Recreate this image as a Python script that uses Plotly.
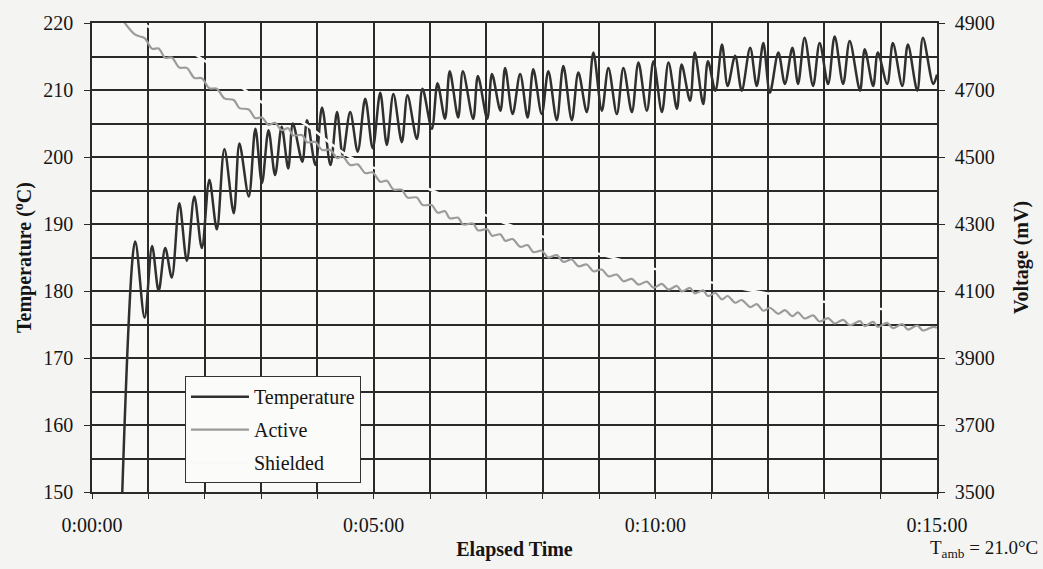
import plotly.graph_objects as go
import pandas as pd

# elapsed time (s) at the extremes of the temperature oscillation
time_s = [30, 46, 56, 64, 71, 78, 85, 93, 101, 109, 117, 125, 133, 141, 151, 157, 167, 174,
          181, 188, 195, 202, 209, 214, 224, 229, 238, 245, 254, 261, 267, 275, 283, 291,
          299, 307, 314, 321, 330, 336, 346, 352, 362, 368, 376, 381, 390, 395, 406, 411,
          421, 426, 435, 440, 448, 456, 464, 470, 479, 486, 495, 502, 511, 518, 527, 534,
          543, 550, 559, 566, 575, 582, 591, 598, 607, 614, 623, 628, 637, 642, 651, 656,
          664, 671, 677, 685, 692, 701, 708, 715, 722, 731, 738, 746, 752, 759, 768, 775,
          784, 791, 800, 807, 818, 823, 832, 837, 847, 853, 863, 869, 879, 885, 896, 900]

temperature = [140.0, 187.4, 176.0, 186.7, 180.0, 186.4, 182.0, 193.1, 184.5, 194.1, 186.4,
               196.6, 189.2, 201.2, 191.6, 202.0, 194.1, 204.2, 196.1, 204.0, 197.3, 204.5,
               198.3, 205.0, 199.3, 205.5, 198.8, 207.4, 198.8, 206.7, 200.3, 206.7, 200.8,
               208.7, 201.3, 209.6, 201.8, 209.4, 202.2, 209.2, 202.7, 210.2, 204.2, 211.0,
               205.7, 212.8, 205.9, 212.8, 205.7, 212.1, 205.7, 212.4, 206.9, 213.3, 206.4,
               212.4, 205.9, 213.1, 206.4, 212.8, 205.5, 213.6, 205.5, 212.6, 206.7, 215.6,
               206.9, 213.3, 206.4, 213.3, 206.7, 214.1, 206.9, 214.3, 206.7, 214.1, 207.2,
               213.8, 208.4, 215.6, 207.9, 214.3, 209.9, 216.8, 210.6, 215.1, 209.9, 216.3,
               210.6, 217.0, 209.6, 215.6, 210.9, 216.3, 210.9, 217.8, 210.6, 217.0, 210.9,
               218.0, 210.9, 217.3, 209.9, 216.1, 210.6, 215.6, 210.9, 217.0, 210.6, 216.8,
               209.9, 217.8, 210.9, 212.3]

active_mv = [4919, 4865, 4855, 4823, 4824, 4796, 4797, 4767, 4766, 4736, 4735, 4705, 4704,
             4675, 4670, 4646, 4642, 4616, 4618, 4596, 4602, 4580, 4586, 4565, 4565, 4544,
             4545, 4521, 4521, 4497, 4502, 4476, 4478, 4452, 4454, 4426, 4429, 4403, 4402,
             4379, 4379, 4357, 4356, 4334, 4338, 4317, 4319, 4299, 4301, 4281, 4284, 4265,
             4269, 4250, 4255, 4232, 4237, 4216, 4220, 4200, 4207, 4187, 4194, 4174, 4179,
             4159, 4164, 4144, 4149, 4129, 4136, 4119, 4128, 4110, 4121, 4104, 4115, 4099,
             4109, 4093, 4102, 4085, 4094, 4075, 4085, 4065, 4073, 4052, 4061, 4041, 4050,
             4032, 4043, 4025, 4036, 4018, 4027, 4009, 4019, 4003, 4014, 3998, 4010, 3995,
             4008, 3993, 4005, 3989, 4001, 3985, 3997, 3982, 3993, 3990]

shielded_time_s = [30, 54, 112, 162, 181, 227, 275, 360, 440, 556, 703, 900]
shielded_mv = [4950, 4900, 4802, 4702, 4663, 4598, 4500, 4403, 4302, 4198, 4101, 4027]

x_tick_labels = ["0:00:00", "0:05:00", "0:10:00", "0:15:00"]

base = pd.Timestamp("2000-01-01 00:00:00")
t_main = base + pd.to_timedelta(time_s, unit="s")
t_sh = base + pd.to_timedelta(shielded_time_s, unit="s")

PLOT_BG = "#f9f9f7"
GRID = "#2a2a2a"
FONT = "Liberation Serif"
TXT = "#151515"

fig = go.Figure()
fig.add_trace(go.Scatter(x=t_main, y=temperature, name="Temperature", mode="lines",
                         line=dict(color="#303030", width=2.5, shape="spline", smoothing=0.9),
                         legendgroup="a"))
fig.add_trace(go.Scatter(x=t_main, y=active_mv, name="Active", mode="lines", yaxis="y2",
                         line=dict(color="#9c9c9c", width=2.2, shape="spline", smoothing=0.9),
                         legendgroup="b"))
fig.add_trace(go.Scatter(x=t_sh, y=shielded_mv, name="Shielded", mode="lines", yaxis="y2",
                         line=dict(color=PLOT_BG, width=2.5, shape="spline"),
                         legendgroup="c"))

tickvals = [base + pd.Timedelta(minutes=m) for m in (0, 5, 10, 15)]

fig.update_layout(
    width=1043, height=569,
    margin=dict(l=92, r=106, t=19, b=76),
    paper_bgcolor="#f4f4f2", plot_bgcolor=PLOT_BG,
    font=dict(family=FONT, size=20, color=TXT),
    showlegend=True,
    legend=dict(x=0.11, y=0.247, xanchor="left", yanchor="top",
                bgcolor="#fbfbfa", bordercolor="#333333", borderwidth=1,
                font=dict(family=FONT, size=20, color=TXT),
                tracegroupgap=4, itemwidth=58),
    xaxis=dict(type="date", range=[base, base + pd.Timedelta(minutes=15)],
               tickmode="array", tickvals=tickvals, ticktext=x_tick_labels,
               tickfont=dict(size=20),
               showgrid=True, gridcolor=GRID, gridwidth=1.6,
               minor=dict(dtick=60000, tick0=base, showgrid=True, gridcolor=GRID,
                          gridwidth=1.6, ticks="outside", ticklen=5, tickcolor=GRID),
               ticks="outside", ticklen=5, tickcolor=GRID,
               showline=True, linecolor=GRID, linewidth=1.6, mirror=True,
               zeroline=False, ticklabelstandoff=9,
               title=dict(text="<b>Elapsed Time</b>", font=dict(size=20), standoff=7)),
    yaxis=dict(range=[150, 220], dtick=10, tick0=150,
               tickfont=dict(size=20),
               showgrid=True, gridcolor=GRID, gridwidth=1.6,
               minor=dict(dtick=5, showgrid=True, gridcolor=GRID, gridwidth=1.6),
               ticks="outside", ticklen=6, tickcolor=GRID,
               showline=True, linecolor=GRID, linewidth=1.6, zeroline=False,
               ticklabelstandoff=7,
               title=dict(text="<b>Temperature (<sup>o</sup>C)</b>", font=dict(size=20),
                          standoff=6)),
    yaxis2=dict(range=[3500, 4900], dtick=200, tick0=3500, overlaying="y", side="right",
                tickfont=dict(size=20),
                showgrid=False, ticks="outside", ticklen=6, tickcolor=GRID,
                showline=True, linecolor=GRID, linewidth=1.6, zeroline=False,
                ticklabelstandoff=6,
                title=dict(text="<b>Voltage (mV)</b>", font=dict(size=20), standoff=20)),
    annotations=[dict(text="T<sub>amb</sub> = 21.0°C", xref="paper", yref="paper",
                      x=1.122, y=-0.122, xanchor="right", yanchor="middle",
                      showarrow=False, font=dict(family=FONT, size=19, color=TXT))],
)

fig.write_html("out.html")
